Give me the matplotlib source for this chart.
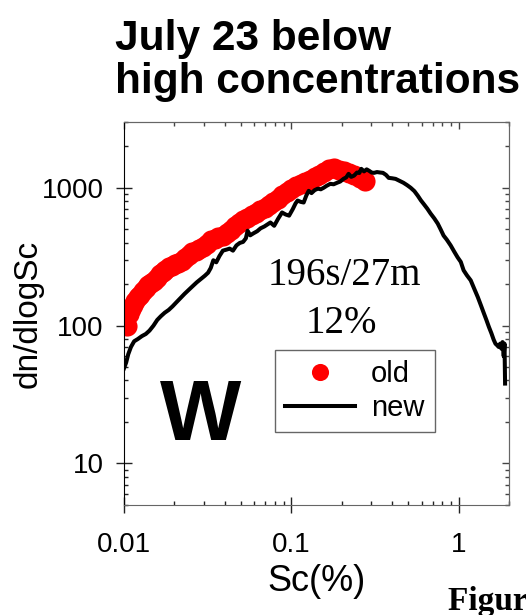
import matplotlib
matplotlib.use("Agg")
import matplotlib.pyplot as plt
from matplotlib.ticker import FixedLocator, NullFormatter, FuncFormatter, LogLocator

plt.rcParams['font.family'] = ['Liberation Sans', 'DejaVu Sans']

# old retrieval (red dots)
old_sc = [0.0100, 0.0104, 0.0107, 0.0110, 0.0113, 0.0117, 0.0121, 0.0125, 0.0130, 0.0135,
          0.0140, 0.0145, 0.0151, 0.0157, 0.0163, 0.0170, 0.0177, 0.0185, 0.0193, 0.0202,
          0.0211, 0.0221, 0.0232, 0.0243, 0.0255, 0.0268, 0.0282, 0.0297, 0.0313, 0.0330,
          0.0348, 0.0367, 0.0388, 0.0410, 0.0434, 0.0459, 0.0486, 0.0515, 0.0546, 0.0579,
          0.0614, 0.0652, 0.0692, 0.0735, 0.0781, 0.0830, 0.0883, 0.0940, 0.100, 0.107,
          0.114, 0.121, 0.129, 0.138, 0.147, 0.157, 0.168, 0.180, 0.193, 0.207,
          0.222, 0.238, 0.256, 0.275]
old_dn = [112, 100, 122, 133, 140, 152, 160, 168, 178, 188,
          198, 204, 212, 222, 236, 246, 255, 265, 272, 280,
          286, 296, 312, 328, 340, 348, 360, 375, 392, 415,
          428, 438, 450, 470, 495, 528, 556, 580, 605, 632,
          660, 688, 712, 745, 790, 835, 880, 935, 985, 1030,
          1070, 1100, 1140, 1200, 1240, 1300, 1360, 1390, 1350, 1320,
          1290, 1230, 1170, 1120]

# new retrieval (black line)
new_sc = [0.0100, 0.0103, 0.0106, 0.0110, 0.0115, 0.0121, 0.0128, 0.0135, 0.0142, 0.0150,
          0.0158, 0.0166, 0.0175, 0.0185, 0.0195, 0.0206, 0.0217, 0.0230, 0.0244, 0.0258,
          0.0272, 0.0288, 0.0304, 0.0318, 0.0330, 0.0342, 0.0356, 0.0372, 0.0390, 0.0410,
          0.0428, 0.0448, 0.0470, 0.0492, 0.0515, 0.0535, 0.0548, 0.0568, 0.0595, 0.0625,
          0.0655, 0.0690, 0.0725, 0.0750, 0.0790, 0.0835, 0.0880, 0.0925, 0.0970, 0.1020,
          0.1060, 0.1090, 0.1140, 0.1185, 0.1230, 0.1270, 0.1320, 0.1380, 0.1440, 0.1500,
          0.1560, 0.1630, 0.1710, 0.1790, 0.1880, 0.1960, 0.2050, 0.2130, 0.2200, 0.2280,
          0.2370, 0.2470, 0.2550, 0.2620, 0.2720, 0.2820, 0.2920, 0.3020, 0.3120, 0.3250,
          0.3400, 0.3530, 0.3680, 0.3820, 0.4000, 0.4200, 0.4420, 0.4680, 0.4920, 0.5170,
          0.5440, 0.5700, 0.5950, 0.6200, 0.6500, 0.6800, 0.7150, 0.7500, 0.7800, 0.8130,
          0.8500, 0.8960, 0.9400, 0.9860, 1.0300, 1.0710, 1.1200, 1.1810, 1.2400, 1.3020,
          1.3600, 1.4150, 1.4650, 1.5160, 1.5700, 1.6200, 1.6600, 1.7000, 1.7360, 1.7700,
          1.8000, 1.8300, 1.8600, 1.8800, 1.8950]
new_dn = [49, 54, 62, 70, 77, 80, 84, 87, 92, 100,
          110, 117, 124, 130, 138, 148, 158, 170, 182, 194,
          206, 218, 230, 242, 262, 298, 288, 320, 350, 356,
          362, 350, 382, 398, 405, 430, 488, 452, 468, 484,
          508, 524, 545, 560, 530, 598, 662, 640, 628, 700,
          770, 808, 790, 782, 880, 950, 915, 962, 985, 975,
          1000, 1035, 1068, 1060, 1088, 1110, 1160, 1190, 1262, 1200,
          1225, 1290, 1280, 1372, 1315, 1360, 1327, 1290, 1283, 1300,
          1290, 1283, 1240, 1180, 1172, 1160, 1125, 1087, 1045, 1000,
          945, 876, 810, 760, 705, 650, 600, 550, 500, 450,
          420, 382, 345, 313, 290, 252, 232, 213, 185, 161,
          140, 123, 110, 98, 88, 79, 74, 72, 70, 74,
          68, 76, 60, 74, 38]

x_major = [0.01, 0.1, 1]
y_major = [10, 100, 1000]

W, H = 526, 615
fig = plt.figure(figsize=(W / 100, H / 100), dpi=100)
ax = fig.add_axes([124 / W, 1 - 505 / H, 385 / W, 383 / H])

ax.plot(old_sc, old_dn, 'o', color='#ff0000', ms=14.5, mec='none', label='old', zorder=2)
ax.plot(new_sc, new_dn, '-', color='black', lw=2.9, label='new', zorder=3)

ax.set_xscale('log')
ax.set_yscale('log')
ax.set_xlim(0.01, 2)
ax.set_ylim(5, 3000)

fmt = FuncFormatter(lambda v, p: '{:g}'.format(v))
for axis, majors in ((ax.xaxis, x_major), (ax.yaxis, y_major)):
    axis.set_major_locator(FixedLocator(majors))
    axis.set_major_formatter(fmt)
    axis.set_minor_locator(LogLocator(base=10, subs=range(2, 10), numticks=20))
    axis.set_minor_formatter(NullFormatter())

ax.tick_params(which='major', direction='inout', length=11, width=1, color='#222222',
               labelsize=20, pad=9)
ax.tick_params(which='minor', direction='in', length=3, width=1, color='#222222')
ax.tick_params(axis='x', which='major', pad=14)

for side in ('top', 'right'):
    sec = ax.secondary_xaxis('top') if side == 'top' else ax.secondary_yaxis('right')
    a = sec.xaxis if side == 'top' else sec.yaxis
    a.set_major_locator(FixedLocator(x_major if side == 'top' else y_major))
    a.set_minor_locator(LogLocator(base=10, subs=range(2, 10), numticks=20))
    a.set_major_formatter(NullFormatter())
    a.set_minor_formatter(NullFormatter())
    sec.tick_params(which='major', direction='in', length=5, width=1, color='#444444')
    sec.tick_params(which='minor', direction='in', length=3, width=1, color='#444444')
    for s in sec.spines.values():
        s.set_color('#666666')

ax.spines['left'].set_color('black')
for s in ('bottom', 'top', 'right'):
    ax.spines[s].set_color('#666666')

ax.set_ylabel('dn/dlogSc', fontsize=24)
ax.yaxis.set_label_coords(-0.21, 0.5)
ax.set_xlabel('Sc(%)', fontsize=26, va='top')
ax.xaxis.set_label_coords(0.5, -0.155)

fig.text(115 / W, 1 - 93 / H, 'July 23 below\nhigh concentrations', fontsize=30.5,
         fontweight='bold', ha='left', va='baseline', linespacing=1.1)

ax.text(344 / W, 1 - 285 / H, '196s/27m', transform=fig.transFigure, fontsize=28,
        family=['Liberation Serif', 'DejaVu Serif'], ha='center', va='baseline')
ax.text(341 / W, 1 - 333 / H, '12%', transform=fig.transFigure, fontsize=28,
        family=['Liberation Serif', 'DejaVu Serif'], ha='center', va='baseline')
ax.text(201 / W, 1 - 440 / H, 'W', transform=fig.transFigure, fontsize=62,
        fontweight='bold', ha='center', va='baseline')

leg = ax.legend(loc='upper left', bbox_to_anchor=(275 / W, 1 - 350 / H),
                bbox_transform=fig.transFigure, borderaxespad=0, fontsize=21,
                numpoints=1, handlelength=2.4, handletextpad=0.55, labelspacing=0.2,
                borderpad=0.35, fancybox=False, framealpha=1, edgecolor='#666666',
                markerscale=0.85)
leg.get_frame().set_linewidth(1)
leg.set_zorder(5)

fig.text(448 / W, 1 - 610 / H, 'Figure 1.', fontsize=24, fontweight='bold',
         family=['Liberation Serif', 'DejaVu Serif'], ha='left', va='baseline')

fig.savefig('out.png', dpi=100)
